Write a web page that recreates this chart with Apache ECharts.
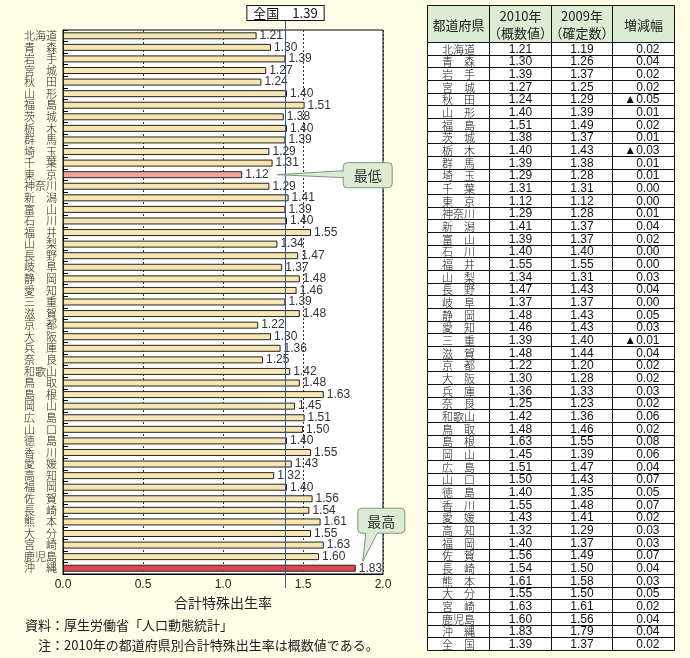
<!DOCTYPE html>
<html><head><meta charset="utf-8">
<script src="https://cdn.jsdelivr.net/npm/echarts@6/dist/echarts.min.js"></script>
<style>html,body{margin:0;padding:0;background:#FFFDE6;}#c{width:690px;height:658px;}</style>
</head><body><div id="c"></div>
<script>
// ---- data ----
const prefectures = ['北海道','青　森','岩　手','宮　城','秋　田','山　形','福　島','茨　城','栃　木','群　馬','埼　玉','千　葉','東　京','神奈川','新　潟','富　山','石　川','福　井','山　梨','長　野','岐　阜','静　岡','愛　知','三　重','滋　賀','京　都','大　阪','兵　庫','奈　良','和歌山','鳥　取','島　根','岡　山','広　島','山　口','徳　島','香　川','愛　媛','高　知','福　岡','佐　賀','長　崎','熊　本','大　分','宮　崎','鹿児島','沖　縄'];
const rate2010 = [1.21,1.30,1.39,1.27,1.24,1.40,1.51,1.38,1.40,1.39,1.29,1.31,1.12,1.29,1.41,1.39,1.40,1.55,1.34,1.47,1.37,1.48,1.46,1.39,1.48,1.22,1.30,1.36,1.25,1.42,1.48,1.63,1.45,1.51,1.50,1.40,1.55,1.43,1.32,1.40,1.56,1.54,1.61,1.55,1.63,1.60,1.83];
const rate2009 = [1.19,1.26,1.37,1.25,1.29,1.39,1.49,1.37,1.43,1.38,1.28,1.31,1.12,1.28,1.37,1.37,1.40,1.55,1.31,1.43,1.37,1.43,1.43,1.40,1.44,1.20,1.28,1.33,1.23,1.36,1.46,1.55,1.39,1.47,1.43,1.35,1.48,1.41,1.29,1.37,1.49,1.50,1.58,1.50,1.61,1.56,1.79];
const changeLabels = ['0.02','0.04','0.02','0.02','▲0.05','0.01','0.02','0.01','▲0.03','0.01','0.01','0.00','0.00','0.01','0.04','0.02','0.00','0.00','0.03','0.04','0.00','0.05','0.03','▲0.01','0.04','0.02','0.02','0.03','0.02','0.06','0.02','0.08','0.06','0.04','0.07','0.05','0.07','0.02','0.03','0.03','0.07','0.04','0.03','0.05','0.02','0.04','0.04','0.02'];
const nationalName = '全　国';
const national2010 = 1.39;
const national2009 = 1.37;
const tableHeaders = ['都道府県','2010年\n（概数値）','2009年\n（確定数）','増減幅'];
const xTickLabels = ['0.0','0.5','1.0','1.5','2.0'];

// ---- layout / styles ----
const BG = '#FFFDE6';
const JP = '"Noto Sans CJK JP", sans-serif';
const NUM = '"Liberation Sans Narrow", "Liberation Sans", Arial, sans-serif';
const G = {left: 63, top: 30, width: 320, height: 544};
const T = {left: 427, top: 5, width: 247, headH: 37, bodyH: 608};

const lowIdx = rate2010.indexOf(Math.min(...rate2010));
const highIdx = rate2010.indexOf(Math.max(...rate2010));

const barData = rate2010.map((v, i) => {
  const d = {value: v};
  if (i === lowIdx) d.itemStyle = {color: '#F2A597'};
  if (i === highIdx) d.itemStyle = {color: '#E0474C'};
  return d;
});

const tableNames = prefectures.concat([nationalName]);
const table2010 = rate2010.concat([national2010]);
const table2009 = rate2009.concat([national2009]);

const bodyCells = [];
for (let r = 0; r < tableNames.length; r++) for (let c = 0; c < 4; c++) bodyCells.push([c, r]);
const headCells = [[0,0],[1,0],[2,0],[3,0]];

function cellRect(api, c, r) {
  const p = api.coord([c, r]);
  const s = api.size([1, 1]);
  const x0 = Math.round(p[0] - s[0] / 2) + 0.5, x1 = Math.round(p[0] + s[0] / 2) + 0.5;
  const y0 = Math.round(p[1] - s[1] / 2) + 0.5, y1 = Math.round(p[1] + s[1] / 2) + 0.5;
  return {x0, x1, y0, y1, cx: (x0 + x1) / 2, cy: (y0 + y1) / 2};
}

const chart = echarts.init(document.getElementById('c'));
const option = {
  backgroundColor: BG,
  animation: false,
  grid: [
    {left: G.left, top: G.top, width: G.width, height: G.height, show: true, backgroundColor: '#fff', borderColor: '#000', borderWidth: 1},
    {left: T.left, top: T.top, width: T.width, height: T.headH},
    {left: T.left, top: T.top + T.headH, width: T.width, height: T.bodyH}
  ],
  xAxis: [
    {gridIndex: 0, type: 'value', min: 0, max: 2, interval: 0.5,
      axisLine: {show: true, lineStyle: {color: '#000'}}, axisTick: {show: false},
      axisLabel: {formatter: (v) => xTickLabels[Math.round(v / 0.5)], color: '#222', fontSize: 12, margin: 5, fontFamily: NUM},
      splitLine: {show: true, lineStyle: {color: '#333', type: [2, 2], width: 1}},
      name: '合計特殊出生率', nameLocation: 'middle', nameGap: 22,
      nameTextStyle: {fontSize: 14, color: '#222', fontFamily: JP}},
    {gridIndex: 1, type: 'category', data: [0,1,2,3], show: false},
    {gridIndex: 2, type: 'category', data: [0,1,2,3], show: false}
  ],
  yAxis: [
    {gridIndex: 0, type: 'category', data: prefectures, inverse: true,
      axisLine: {show: true, lineStyle: {color: '#000'}},
      axisTick: {show: true, inside: true, length: 5, lineStyle: {color: '#000'}},
      axisLabel: {interval: 0, fontSize: 11, lineHeight: 11, fontWeight: 300, color: '#222', margin: 6, fontFamily: JP, hideOverlap: false}},
    {gridIndex: 1, type: 'category', data: ['h'], show: false},
    {gridIndex: 2, type: 'category', data: tableNames, inverse: true, show: false}
  ],
  series: [
    {type: 'bar', xAxisIndex: 0, yAxisIndex: 0, data: barData, barWidth: 7,
      itemStyle: {color: '#F6E6B2', borderColor: '#222', borderWidth: 1},
      label: {show: true, position: 'right', distance: 3, color: '#333', fontSize: 12, fontFamily: NUM,
        formatter: (p) => p.value.toFixed(2)},
      markLine: {silent: true, symbol: ['none', 'none'], label: {show: false},
        lineStyle: {color: '#2C58A6', width: 1, type: 'solid'},
        data: [{xAxis: national2010}]},
      z: 3},
    {type: 'custom', xAxisIndex: 1, yAxisIndex: 1, coordinateSystem: 'cartesian2d', data: headCells,
      renderItem: (params, api) => {
        const c = api.value(0);
        const R = cellRect(api, c, 0);
        return {type: 'group', children: [
          {type: 'rect', shape: {x: R.x0, y: R.y0, width: R.x1 - R.x0, height: R.y1 - R.y0},
            style: {fill: '#DCEBD2', stroke: '#111', lineWidth: 1}},
          {type: 'text', style: {text: tableHeaders[c], x: R.cx, y: R.cy + 1, align: 'center', verticalAlign: 'middle',
            font: '13px ' + JP, fill: '#222', lineHeight: 17}}
        ]};
      }},
    {type: 'custom', xAxisIndex: 2, yAxisIndex: 2, coordinateSystem: 'cartesian2d', data: bodyCells,
      renderItem: (params, api) => {
        const c = api.value(0), r = api.value(1);
        const R = cellRect(api, c, r);
        let text, align = 'center', x = R.cx, font = '12px ' + NUM;
        if (c === 0) { text = tableNames[r]; font = '300 11px ' + JP; }
        else if (c === 1) text = table2010[r].toFixed(2);
        else if (c === 2) text = table2009[r].toFixed(2);
        else { text = changeLabels[r]; align = 'right'; x = R.x1 - 15; }
        return {type: 'group', children: [
          {type: 'rect', shape: {x: R.x0, y: R.y0, width: R.x1 - R.x0, height: R.y1 - R.y0},
            style: {fill: '#fff', stroke: '#111', lineWidth: 1}},
          {type: 'text', style: {text, x, y: R.cy + 0.5, align, verticalAlign: 'middle', font, fill: '#111'}}
        ]};
      }}
  ]
};
chart.setOption(option);

// ---- annotations positioned from the chart's own scales ----
const nx = Math.round(chart.convertToPixel({xAxisIndex: 0}, national2010)) + 0.5;
const low = chart.convertToPixel({gridIndex: 0}, [rate2010[lowIdx], lowIdx]);
const high = chart.convertToPixel({gridIndex: 0}, [rate2010[highIdx], highIdx]);
const gBottom = G.top + G.height;
const calloutFill = '#DCEBD3', calloutStroke = '#7E9578';

const lowTip = [low[0] + 35, low[1]];
const lowBox = {x: lowTip[0] + 66, y: lowTip[1] - 12, w: 49, h: 25};
const highTip = [high[0] + 7, high[1] - 7];
const highBox = {x: highTip[0] - 5, y: highTip[1] - 53, w: 47, h: 25};

chart.setOption({graphic: [
  {type: 'line', shape: {x1: nx, y1: 20, x2: nx, y2: G.top}, style: {stroke: '#2C58A6', lineWidth: 1}, z: 10},
  {type: 'line', shape: {x1: nx, y1: gBottom, x2: nx, y2: gBottom + 14}, style: {stroke: '#2C58A6', lineWidth: 1}, z: 10},
  {type: 'text', x: nx, y: 13, style: {text: '全国　1.39', align: 'center', verticalAlign: 'middle',
    font: '13px ' + JP, fill: '#111', backgroundColor: '#fff', borderColor: '#111', borderWidth: 1, padding: [1, 6, 0, 6]}, z: 11},
  // lowest callout
  {type: 'polygon', shape: {points: [lowTip, [lowBox.x + 1, lowTip[1] - 4], [lowBox.x + 1, lowTip[1] + 3]]},
    style: {fill: calloutFill, stroke: calloutStroke, lineWidth: 1}, z: 10},
  {type: 'rect', shape: {x: lowBox.x, y: lowBox.y, width: lowBox.w, height: lowBox.h, r: 4},
    style: {fill: calloutFill, stroke: calloutStroke, lineWidth: 1}, z: 11},
  {type: 'rect', shape: {x: lowBox.x - 1, y: lowTip[1] - 3, width: 3, height: 5}, style: {fill: calloutFill}, z: 12},
  {type: 'text', x: lowBox.x + lowBox.w / 2, y: lowBox.y + lowBox.h / 2 + 1,
    style: {text: '最低', align: 'center', verticalAlign: 'middle', font: '14px ' + JP, fill: '#333'}, z: 13},
  // highest callout
  {type: 'polygon', shape: {points: [highTip, [highBox.x + 8, highBox.y + highBox.h - 1], [highBox.x + 20, highBox.y + highBox.h - 1]]},
    style: {fill: calloutFill, stroke: calloutStroke, lineWidth: 1}, z: 10},
  {type: 'rect', shape: {x: highBox.x, y: highBox.y, width: highBox.w, height: highBox.h, r: 4},
    style: {fill: calloutFill, stroke: calloutStroke, lineWidth: 1}, z: 11},
  {type: 'rect', shape: {x: highBox.x + 9, y: highBox.y + highBox.h - 2, width: 10, height: 3}, style: {fill: calloutFill}, z: 12},
  {type: 'text', x: highBox.x + highBox.w / 2, y: highBox.y + highBox.h / 2 + 1,
    style: {text: '最高', align: 'center', verticalAlign: 'middle', font: '14px ' + JP, fill: '#333'}, z: 13},
  // notes
  {type: 'text', x: 25, y: 625, style: {text: '資料：厚生労働省「人口動態統計」', verticalAlign: 'middle', font: '13px ' + JP, fill: '#222'}},
  {type: 'text', x: 38, y: 645, style: {text: '注：2010年の都道府県別合計特殊出生率は概数値である。', verticalAlign: 'middle', font: '13px ' + JP, fill: '#222'}}
]});
</script></body></html>
